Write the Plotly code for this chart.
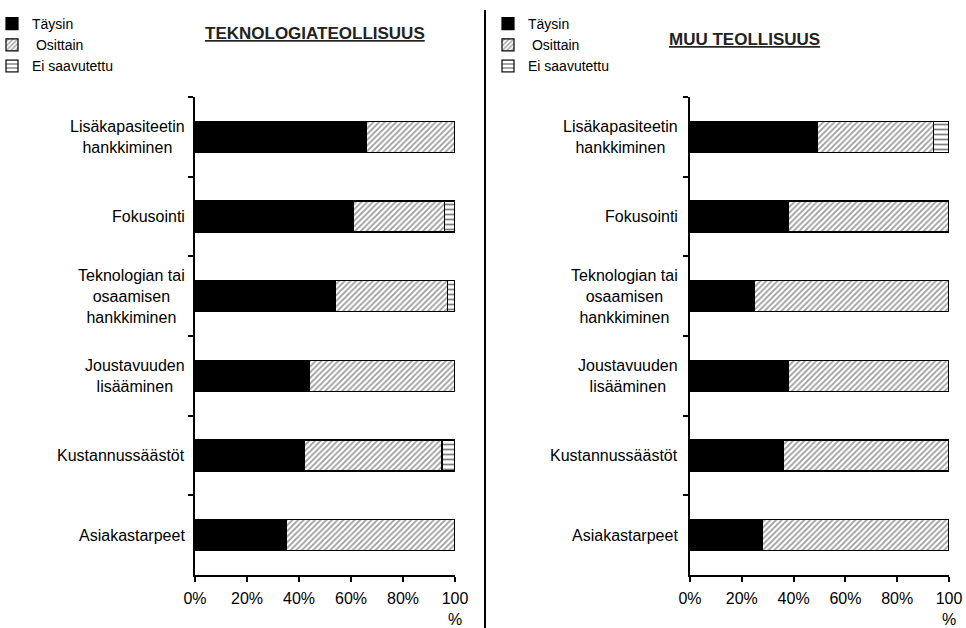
import plotly.graph_objects as go

W, H = 966, 628

categories = [
    "Lisäkapasiteetin<br>hankkiminen",
    "Fokusointi",
    "Teknologian tai<br>osaamisen<br>hankkiminen",
    "Joustavuuden<br>lisääminen",
    "Kustannussäästöt",
    "Asiakastarpeet",
]
series_names = ["Täysin", " Osittain", "Ei saavutettu"]

tech_taysin = [66, 61, 54, 44, 42, 35]
tech_osittain = [34, 35, 43, 56, 53, 65]
tech_ei = [0, 4, 3, 0, 5, 0]

muu_taysin = [49, 38, 25, 38, 36, 28]
muu_osittain = [45, 62, 75, 62, 64, 72]
muu_ei = [6, 0, 0, 0, 0, 0]

x_tickvals = [0, 20, 40, 60, 80, 100]
x_ticktext = ["0%", "20%", "40%", "60%", "80%", "100<br>%"]

titles = ["<b><u>TEKNOLOGIATEOLLISUUS</u></b>", "<b><u>MUU TEOLLISUUS</u></b>"]

FONT = "Liberation Sans, Arial, sans-serif"

styles = [
    dict(color="black", pattern=None),
    dict(color="white", pattern=dict(shape="/", fgcolor="#3a3a3a", bgcolor="white", size=4, solidity=0.45)),
    dict(color="white", pattern=dict(shape="-", fgcolor="black", bgcolor="white", size=5, solidity=0.35)),
]

fig = go.Figure()

panels = [
    ("x", "y", "legend", [tech_taysin, tech_osittain, tech_ei]),
    ("x2", "y2", "legend2", [muu_taysin, muu_osittain, muu_ei]),
]

for xa, ya, lg, data in panels:
    for name, vals, st in zip(series_names, data, styles):
        marker = dict(color=st["color"], line=dict(color="black", width=1.2))
        if st["pattern"]:
            marker["pattern"] = st["pattern"]
        fig.add_trace(go.Bar(
            x=vals, y=categories, orientation="h", name=name,
            marker=marker, xaxis=xa, yaxis=ya, legend=lg,
            hoverinfo="skip",
        ))

def px_x(p):
    return p / W

def px_y(p):
    return 1 - p / H

ydom = [px_y(575), px_y(97)]
xdom1 = [px_x(195), px_x(455)]
xdom2 = [px_x(690), px_x(949)]

xaxis_common = dict(
    range=[0, 100], tickvals=x_tickvals, ticktext=x_ticktext,
    showline=True, linecolor="black", linewidth=1.8,
    ticks="outside", ticklen=5, tickwidth=1.5, tickcolor="black",
    showgrid=False, zeroline=False, fixedrange=True,
    tickfont=dict(family=FONT, size=16, color="black"),
    ticklabelstandoff=3,
)
yaxis_common = dict(
    type="category", autorange="reversed",
    showline=True, linecolor="black", linewidth=1.8,
    ticks="outside", ticklen=5, tickwidth=1.5, tickcolor="black",
    tickson="boundaries", showticklabels=False,
    showgrid=False, zeroline=False, fixedrange=True,
)

fig.update_layout(
    width=W, height=H,
    margin=dict(l=0, r=0, t=0, b=0, autoexpand=False),
    paper_bgcolor="white", plot_bgcolor="white",
    barmode="stack", bargap=0.61,
    xaxis=dict(domain=xdom1, anchor="y", **xaxis_common),
    yaxis=dict(domain=ydom, anchor="x", **yaxis_common),
    xaxis2=dict(domain=xdom2, anchor="y2", **xaxis_common),
    yaxis2=dict(domain=ydom, anchor="x2", **yaxis_common),
    legend=dict(x=px_x(-8), y=px_y(8), xanchor="left", yanchor="top",
                traceorder="normal", font=dict(family=FONT, size=14, color="black"),
                bgcolor="rgba(0,0,0,0)", itemclick=False, itemdoubleclick=False),
    legend2=dict(x=px_x(488), y=px_y(8), xanchor="left", yanchor="top",
                 traceorder="normal", font=dict(family=FONT, size=14, color="black"),
                 bgcolor="rgba(0,0,0,0)", itemclick=False, itemdoubleclick=False),
    showlegend=True,
)

# Category labels (centered multi-line, right-anchored next to each axis)
for ya, xr in [("y", px_x(187)), ("y2", px_x(680))]:
    for c in categories:
        fig.add_annotation(
            x=xr, xref="paper", y=c, yref=ya, text=c, showarrow=False,
            xanchor="right", yanchor="middle", align="center",
            font=dict(family=FONT, size=16, color="black"),
        )

# Panel titles
fig.add_annotation(x=px_x(315), y=px_y(33), xref="paper", yref="paper", text=titles[0],
                   showarrow=False, xanchor="center", yanchor="middle",
                   font=dict(family=FONT, size=17, color="#222222"))
fig.add_annotation(x=px_x(744), y=px_y(40), xref="paper", yref="paper", text=titles[1],
                   showarrow=False, xanchor="center", yanchor="middle",
                   font=dict(family=FONT, size=17, color="#222222"))

# Divider line between the two panels
fig.add_shape(type="line", xref="paper", yref="paper",
              x0=px_x(485), x1=px_x(485), y0=px_y(10), y1=0,
              line=dict(color="black", width=2))

fig.write_html("out.html", config={"displayModeBar": False})
